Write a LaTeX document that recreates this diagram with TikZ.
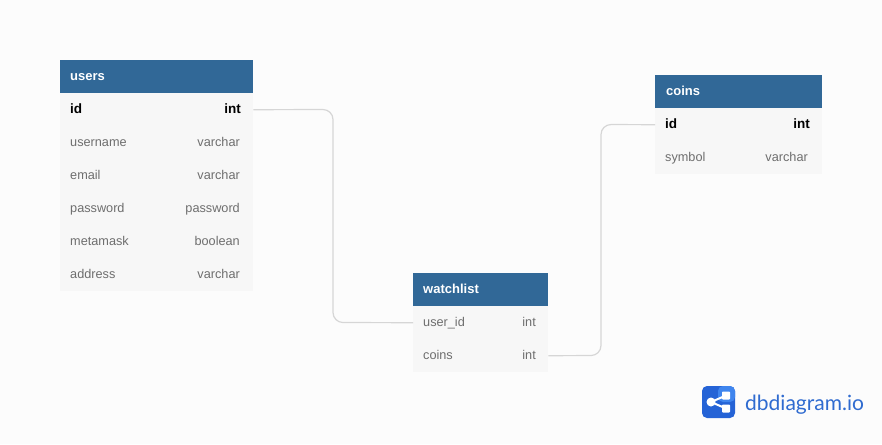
\documentclass[tikz,border=0pt]{standalone}
\usepackage{fontspec}
\setmainfont{Liberation Sans}
\newfontfamily\logofont{Lato}
\definecolor{pagebg}{HTML}{FCFCFC}
\definecolor{headbg}{HTML}{316897}
\definecolor{rowbg}{HTML}{F7F7F7}
\definecolor{fieldtxt}{HTML}{6E6E6E}
\definecolor{linkc}{HTML}{D6D6D6}
\definecolor{logoa}{HTML}{2563D6}
\definecolor{logob}{HTML}{3F85EE}
\definecolor{logot}{HTML}{2F6BD0}
\tikzset{
  x=1pt,y=-1pt,
  headbox/.style={fill=headbg,draw=none,inner sep=0pt,anchor=north west,minimum height=33pt},
  rowbox/.style={fill=rowbg,draw=none,inner sep=0pt,anchor=north west,minimum height=33pt},
  headtxt/.style={text=white,font=\fontsize{13}{14}\selectfont\bfseries,inner sep=0pt,anchor=base west},
  fieldl/.style={text=fieldtxt,font=\fontsize{12.7}{14}\selectfont,inner sep=0pt,anchor=base west},
  fieldr/.style={text=fieldtxt,font=\fontsize{12.7}{14}\selectfont,inner sep=0pt,anchor=base east},
  keyl/.style={text=black,font=\fontsize{13.5}{14}\selectfont\bfseries,inner sep=0pt,anchor=base west},
  keyr/.style={text=black,font=\fontsize{13.5}{14}\selectfont\bfseries,inner sep=0pt,anchor=base east},
  link/.style={draw=linkc,line width=1.2pt,rounded corners=10pt},
}
\begin{document}
\begin{tikzpicture}
\useasboundingbox[fill=pagebg] (0,0) rectangle (882,444);
% users
\node[headbox,minimum width=193pt] (users) at (60,60) {};
\node[rowbox,minimum width=193pt] (usersid) at (60,93) {};
\node[rowbox,minimum width=193pt] (usersname) at (60,126) {};
\node[rowbox,minimum width=193pt] (usersemail) at (60,159) {};
\node[rowbox,minimum width=193pt] (userspass) at (60,192) {};
\node[rowbox,minimum width=193pt] (usersmeta) at (60,225) {};
\node[rowbox,minimum width=193pt] (usersaddr) at (60,258) {};
\node[headtxt] (t1) at (70,80) {users};
\node[keyl] (t2) at (70,113) {id};
\node[keyr] (t3) at (241,113) {int};
\node[fieldl] (t4) at (70,146) {username};
\node[fieldr] (t5) at (240,146) {varchar};
\node[fieldl] (t6) at (70,179) {email};
\node[fieldr] (t7) at (240,179) {varchar};
\node[fieldl] (t8) at (70,212) {password};
\node[fieldr] (t9) at (240,212) {password};
\node[fieldl] (t10) at (70,245) {metamask};
\node[fieldr] (t11) at (240,245) {boolean};
\node[fieldl] (t12) at (70,278) {address};
\node[fieldr] (t13) at (240,278) {varchar};
% coins
\node[headbox,minimum width=167pt] (coins) at (655,75) {};
\node[rowbox,minimum width=167pt] (coinsid) at (655,108) {};
\node[rowbox,minimum width=167pt] (coinssym) at (655,141) {};
\node[headtxt] (t14) at (666,95) {coins};
\node[keyl] (t15) at (665,128) {id};
\node[keyr] (t16) at (810,128) {int};
\node[fieldl] (t17) at (665,161) {symbol};
\node[fieldr] (t18) at (808,161) {varchar};
% watchlist
\node[headbox,minimum width=135pt] (watch) at (413,273) {};
\node[rowbox,minimum width=135pt] (watchuser) at (413,306) {};
\node[rowbox,minimum width=135pt] (watchcoins) at (413,339) {};
\node[headtxt] (t19) at (423,293) {watchlist};
\node[fieldl] (t20) at (423,326) {user\_id};
\node[fieldr] (t21) at (536,326) {int};
\node[fieldl] (t22) at (423,359) {coins};
\node[fieldr] (t23) at (536,359) {int};
% connectors
\draw[link] (usersid.east) -- (333,109.5) -- (333,322.5) -- (watchuser.west);
\draw[link] (watchcoins.east) -- (601,355.5) -- (601,124.5) -- (coinsid.west);
% logo
\fill[logoa,rounded corners=5pt] (702,386) rectangle (735,418);
\fill[logob,rounded corners=5pt] (718,386) -- (735,386) -- (735,402) -- (718,402) -- cycle;
\fill[white,rounded corners=0.8pt] (722,391.5) rectangle (730,399.5);
\fill[white,rounded corners=0.8pt] (722,404.5) rectangle (730,412.5);
\fill[white] (711,402) circle (4.5pt);
\draw[white,line width=2pt] (726,395.5) -- (711,402) -- (726,408.5);
\node[text=logot,font=\logofont\fontsize{21}{26}\selectfont,inner sep=0pt,anchor=base west] (logo) at (745,410) {dbdiagram.io};
\end{tikzpicture}
\end{document}
